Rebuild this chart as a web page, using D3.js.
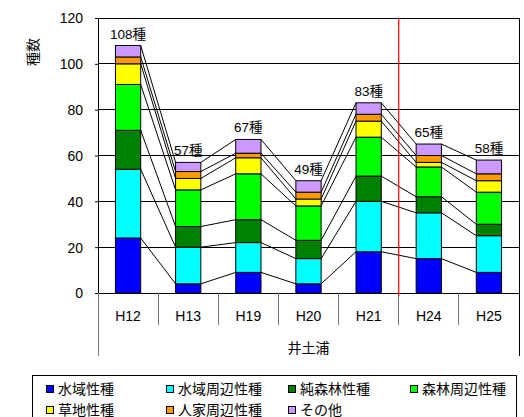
<!DOCTYPE html>
<html><head><meta charset="utf-8">
<script src="https://cdn.jsdelivr.net/npm/d3@7"></script>
<style>body{margin:0;background:#fff}svg{display:block}text{font-family:"Liberation Sans","Noto Sans CJK JP",sans-serif;fill:#000}</style>
</head><body><svg id="c" width="524" height="417"></svg>
<script>
const categories = ["H12","H13","H19","H20","H21","H24","H25"];
const seriesNames = ["水域性種","水域周辺性種","純森林性種","森林周辺性種","草地性種","人家周辺性種","その他"];
const seriesColors = ["#0000FF","#00FFFF","#008000","#00FF00","#FFFF00","#FF9900","#CC99FF"];
const water      = [24, 4, 9, 4, 18, 15, 9];
const waterEdge  = [30,16,13,11, 22, 20,16];
const pureForest = [17, 9,10, 8, 11,  7, 5];
const forestEdge = [20,16,20,15, 17, 13,14];
const grassland  = [ 9, 5, 7, 3,  7,  2, 5];
const settlement = [ 3, 3, 2, 3,  3,  3, 3];
const others     = [ 5, 4, 6, 5,  5,  5, 6];
const totalLabels = ["108種","57種","67種","49種","83種","65種","58種"];
const yTicks = [0,20,40,60,80,100,120];
const groupLabel = "井土浦";
const yTitle = "種数";

const seriesValues = [water,waterEdge,pureForest,forestEdge,grassland,settlement,others];
const rows = categories.map((c,i)=>{const o={cat:c};seriesNames.forEach((s,j)=>o[s]=seriesValues[j][i]);return o;});
const stacked = d3.stack().keys(seriesNames)(rows);

const svg = d3.select("#c");
const L=98,R=519,T=18,B=293;
const x = d3.scaleBand().domain(categories).range([L,R]).paddingInner(0.58).paddingOuter(0.29);
const xb = d3.scaleBand().domain(categories).range([L,R]);
const y = d3.scaleLinear().domain([0,120]).range([B,T]);

// gridlines
svg.append("g").selectAll("line").data(yTicks.filter(v=>v>0)).join("line")
  .attr("x1",L).attr("x2",R).attr("y1",d=>y(d)).attr("y2",d=>y(d))
  .attr("stroke","#000").attr("stroke-width",1).attr("shape-rendering","crispEdges");
// right border
svg.append("line").attr("x1",R).attr("x2",R).attr("y1",T).attr("y2",356).attr("stroke","#000").attr("shape-rendering","crispEdges");

// y axis
const ya = svg.append("g").attr("transform",`translate(${L},0)`)
  .call(d3.axisLeft(y).tickValues(yTicks).tickSize(3).tickPadding(12));
ya.select(".domain").attr("stroke","#000");
ya.selectAll("text").style("font-size","14px").attr("dy","0.35em");
ya.selectAll(".tick line").attr("stroke","#000");

// series lines
for (let i=0;i<categories.length-1;i++){
  stacked.forEach(s=>{
    svg.append("line")
      .attr("x1",x(categories[i])+x.bandwidth()).attr("y1",y(s[i][1]))
      .attr("x2",x(categories[i+1])).attr("y2",y(s[i+1][1]))
      .attr("stroke","#000").attr("stroke-width",1);
  });
}

// bars
svg.append("g").selectAll("g").data(stacked).join("g").attr("fill",(d,i)=>seriesColors[i])
  .selectAll("rect").data(d=>d).join("rect")
  .attr("x",d=>x(d.data.cat)).attr("width",x.bandwidth())
  .attr("y",d=>y(d[1])).attr("height",d=>y(d[0])-y(d[1]))
  .attr("stroke","#000").attr("stroke-width",1);

// x axis baseline
svg.append("line").attr("x1",L).attr("x2",R).attr("y1",B).attr("y2",B).attr("stroke","#000").attr("shape-rendering","crispEdges");
// category separators
categories.forEach((c,i)=>{
  if(i>0) svg.append("line").attr("x1",xb(c)).attr("x2",xb(c)).attr("y1",B).attr("y2",325).attr("stroke","#777").attr("shape-rendering","crispEdges");
});
svg.append("line").attr("x1",L).attr("x2",L).attr("y1",B).attr("y2",356).attr("stroke","#777").attr("shape-rendering","crispEdges");
svg.selectAll(".cl").data(categories).join("text").attr("class","cl")
  .attr("x",d=>xb(d)+xb.bandwidth()/2).attr("y",316).attr("dy","0.35em")
  .attr("text-anchor","middle").style("font-size","14px").text(d=>d);
svg.append("text").attr("x",(L+R)/2).attr("y",348).attr("dy","0.35em").attr("text-anchor","middle")
  .style("font-size","14px").text(groupLabel);

// red line
svg.append("line").attr("x1",xb("H24")).attr("x2",xb("H24")).attr("y1",T).attr("y2",296)
  .attr("stroke","#FF0000").attr("stroke-width",1.2);

// total labels
const topSeries = stacked[stacked.length-1];
svg.selectAll(".tl").data(categories).join("text").attr("class","tl")
  .attr("x",d=>x(d)+x.bandwidth()/2).attr("y",(d,i)=>y(topSeries[i][1])-7)
  .attr("text-anchor","middle").style("font-size","13.5px").text((d,i)=>totalLabels[i]);

// y title
svg.append("text").attr("transform","translate(33,52) rotate(-90)").attr("text-anchor","middle").attr("dy","0.35em")
  .style("font-size","14px").text(yTitle);

// legend
svg.append("rect").attr("x",32.5).attr("y",375.5).attr("width",484).attr("height",60).attr("fill","#fff").attr("stroke","#000");
const colX=[46,166,288,410], rowY=[389,410];
seriesNames.forEach((s,i)=>{
  const cx=colX[i%4], cy=rowY[Math.floor(i/4)];
  svg.append("rect").attr("x",cx+0.5).attr("y",cy-3.5).attr("width",7).attr("height",7).attr("fill",seriesColors[i]).attr("stroke","#000");
  svg.append("text").attr("x",cx+12).attr("y",cy).attr("dy","0.35em").style("font-size","14px").text(s);
});
</script></body></html>
